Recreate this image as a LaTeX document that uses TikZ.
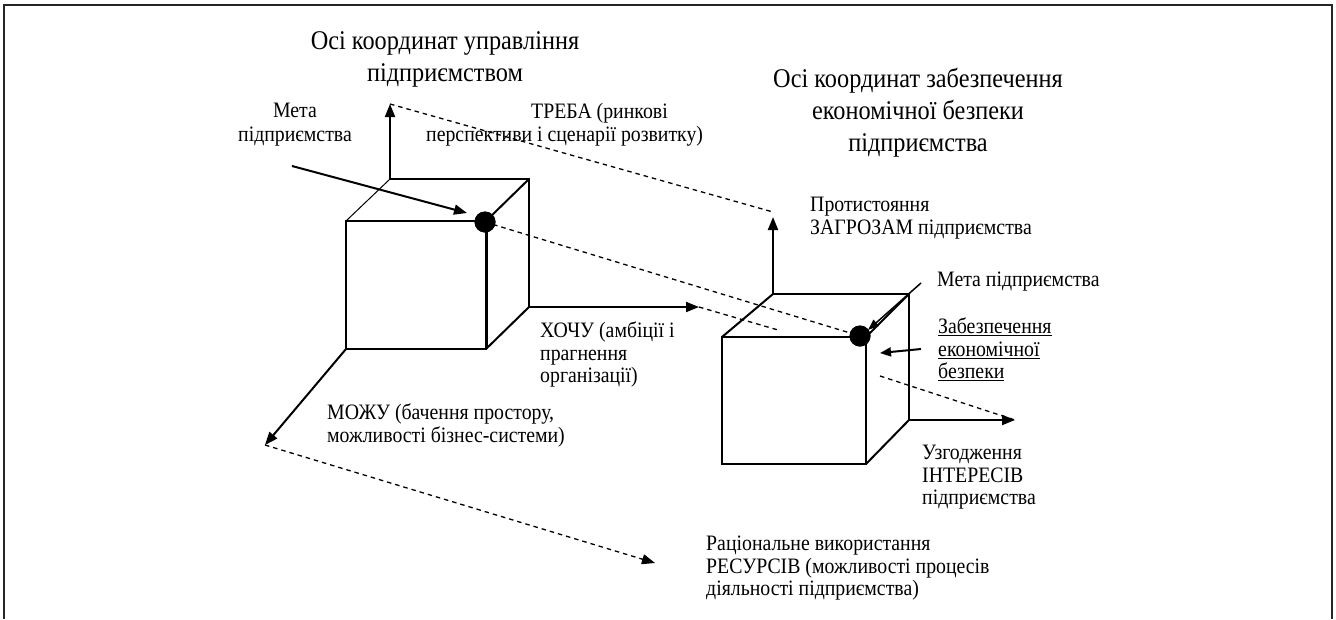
\documentclass[tikz,border=0pt]{standalone}
\usepackage{fontspec}
\setmainfont{Liberation Serif}[FakeStretch=0.9]
\usetikzlibrary{arrows.meta}
\begin{document}
\begin{tikzpicture}[x=1pt,y=-1pt,
  edge/.style={line width=2pt},
  thinedge/.style={line width=1pt},
  tip/.style={-{Triangle[length=13pt,width=10pt]}},
  axis/.style={line width=2pt, tip},
  dashline/.style={line width=1.3pt, dash pattern=on 4.5pt off 4pt},
  lbl/.style={font=\fontsize{22}{22.5}\selectfont, inner sep=0pt, align=left, anchor=north west},
  clbl/.style={font=\fontsize{22}{23.5}\selectfont, inner sep=0pt, align=center, anchor=north},
  ttl/.style={font=\fontsize{27}{32}\selectfont, inner sep=0pt, align=center, anchor=north},
  dot/.style={circle, fill=black, inner sep=0pt, minimum size=21pt}
]
\useasboundingbox (0,0) rectangle (1336,619);
\draw[line width=2pt, color=black!85] (4,619) -- (4,5) -- (1332,5) -- (1332,619);

% cube 1 points
\coordinate (a1) at (346,221);
\coordinate (b1) at (486,221);
\coordinate (c1) at (486,349);
\coordinate (d1) at (346,349);
\coordinate (e1) at (390,179);
\coordinate (f1) at (529,179);
\coordinate (g1) at (529,307);
\coordinate (up1) at (390,104);
\coordinate (x1) at (699,307);
\coordinate (m1) at (265,445);
\coordinate (ms1) at (292,166);
\coordinate (mt1) at (467,213);
\coordinate (x1e) at (778,330);
\coordinate (r1) at (655,563);

% cube 2 points
\coordinate (a2) at (722,337);
\coordinate (b2) at (866,337);
\coordinate (c2) at (866,464);
\coordinate (d2) at (722,464);
\coordinate (e2) at (773,294);
\coordinate (f2) at (909,294);
\coordinate (g2) at (909,420);
\coordinate (up2) at (773,217);
\coordinate (q2) at (773,212);
\coordinate (x2) at (1015,420);
\coordinate (z2) at (880,376);
\coordinate (ms2) at (921,283);
\coordinate (mt2) at (868,330);
\coordinate (zs2) at (921,349);
\coordinate (zt2) at (880,353);

\node[dot] (p1) at (485,222) {};
\node[dot] (p2) at (860,336) {};

% dashed lines
\draw[dashline] (up1) -- (q2);
\draw[dashline] (p1.center) -- (p2.center);
\draw[dashline] (x1) -- (x1e);
\draw[dashline, tip] (m1) -- (r1);
\draw[dashline] (z2) -- (x2);

% cube 1
\draw[edge] (a1) -- (b1) -- (c1) -- (d1) -- cycle;
\draw[edge] (e1) -- (f1) -- (g1);
\draw[thinedge] (a1) -- (e1);
\draw[edge] (b1) -- (f1);
\draw[edge] (c1) -- (g1);
\draw[line width=3pt] (b1) -- (c1);
\draw[axis] (e1) -- (up1);
\draw[axis] (g1) -- (x1);
\draw[axis] (d1) -- (m1);
\draw[axis] (ms1) -- (mt1);

% cube 2
\draw[edge] (a2) -- (b2) -- (c2) -- (d2) -- cycle;
\draw[edge] (e2) -- (f2) -- (g2);
\draw[edge] (a2) -- (e2);
\draw[edge] (b2) -- (f2);
\draw[edge] (c2) -- (g2);
\draw[axis] (e2) -- (up2);
\draw[axis] (g2) -- (x2);
\draw[line width=1.5pt, -{Triangle[length=11pt,width=8pt]}] (ms2) -- (mt2);
\draw[line width=2pt, -{Triangle[length=11pt,width=9pt]}] (zs2) -- (zt2);

\node[dot] at (p1) {};
\node[dot] at (p2) {};

% titles
\node[ttl] (t1) at (445,31) {Осі координат управління\\підприємством};
\node[ttl] (t2) at (918,68) {Осі координат забезпечення\\економічної безпеки\\підприємства};

% labels
\node[clbl] (lmeta1) at (295,103) {Мета\\підприємства};
\node[lbl, font=\fontsize{22}{23.5}\selectfont] (ltreba) at (426,103) {\hspace*{105pt}ТРЕБА (ринкові\\перспективи і сценарії розвитку)};
\node[lbl] (lprot) at (810,197) {Протистояння\\ЗАГРОЗАМ підприємства};
\node[lbl] (lmeta2) at (937,272) {Мета підприємства};
\node[lbl] (lzab) at (938,318) {\underline{Забезпечення}\\\underline{економічної}\\\underline{безпеки}};
\node[lbl] (lhochu) at (540,322) {ХОЧУ (амбіції і\\прагнення\\організації)};
\node[lbl] (lmozhu) at (327,404) {МОЖУ (бачення простору,\\можливості бізнес-системи)};
\node[lbl] (luzg) at (922,445) {Узгодження\\ІНТЕРЕСІВ\\підприємства};
\node[lbl] (lrac) at (706,536) {Раціональне використання\\РЕСУРСІВ (можливості процесів\\діяльності підприємства)};
\end{tikzpicture}
\end{document}
